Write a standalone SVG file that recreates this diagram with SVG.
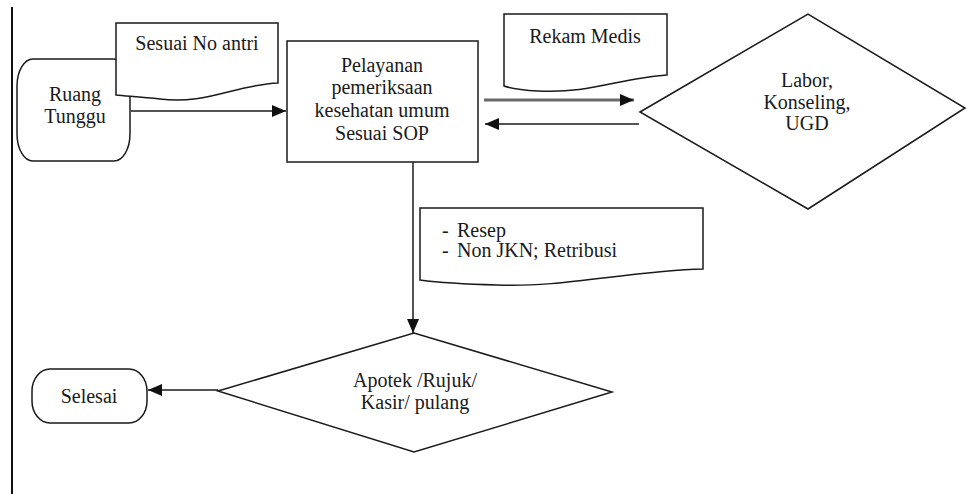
<svg xmlns="http://www.w3.org/2000/svg" width="967" height="494" viewBox="0 0 967 494">
<style>
  .shape { fill: #ffffff; stroke: #1a1a1a; stroke-width: 1.5; }
  .conn { fill: none; stroke: #1a1a1a; stroke-width: 1.5; }
  .conn-grey { fill: none; stroke: #6a6a6a; stroke-width: 3; }
  .lbl { font-family: 'Liberation Serif', 'DejaVu Serif', serif; font-size: 20px; fill: #1a1a1a; }
  .mid { text-anchor: middle; }
</style>
<defs>
  <marker id="arrow" markerUnits="userSpaceOnUse" markerWidth="14" markerHeight="12" refX="14" refY="6" orient="auto">
    <path d="M0,0 L14,6 L0,12 Z" fill="#111111"/>
  </marker>
</defs>
<rect x="0" y="0" width="967" height="494" fill="#ffffff"/>
<line x1="12" y1="7" x2="12" y2="494" stroke="#111111" stroke-width="2"/>

<g id="ruang-tunggu">
  <rect class="shape" x="17" y="59" width="113" height="102" rx="16" ry="27"/>
  <text class="lbl mid" x="75" y="101">Ruang</text>
  <text class="lbl mid" x="75" y="123">Tunggu</text>
</g>

<g id="sesuai-no-antri">
  <path class="shape" d="M116,23 H278 V83 C235,85 205,105 160,99 C140,97 126,96 116,95 Z"/>
  <text class="lbl mid" x="197" y="50">Sesuai No antri</text>
</g>

<g id="pelayanan">
  <rect class="shape" x="287" y="41" width="191" height="121"/>
  <text class="lbl mid" x="382" y="72">Pelayanan</text>
  <text class="lbl mid" x="382" y="94">pemeriksaan</text>
  <text class="lbl mid" x="382" y="117">kesehatan umum</text>
  <text class="lbl mid" x="382" y="140">Sesuai SOP</text>
</g>

<g id="rekam-medis">
  <path class="shape" d="M504,14 H667 V75 C620,78 590,94 538,91 C520,90 510,88 504,86 Z"/>
  <text class="lbl mid" x="585" y="43">Rekam Medis</text>
</g>

<g id="labor">
  <polygon class="shape" points="640,112 808,14 965,108 808,209"/>
  <text class="lbl mid" x="807" y="87">Labor,</text>
  <text class="lbl mid" x="807" y="109">Konseling,</text>
  <text class="lbl mid" x="807" y="130">UGD</text>
</g>

<g id="resep">
  <path class="shape" d="M420,208 H703 V269 C630,271 560,288 497,285 C460,284 435,282 420,280 Z"/>
  <text class="lbl" x="442" y="237">-</text>
  <text class="lbl" x="457" y="237">Resep</text>
  <text class="lbl" x="442" y="257">-</text>
  <text class="lbl" x="457" y="257">Non JKN; Retribusi</text>
</g>

<g id="apotek">
  <polygon class="shape" points="218,391 414,333 612,392 414,452"/>
  <text class="lbl mid" x="415" y="387">Apotek /Rujuk/</text>
  <text class="lbl mid" x="415" y="409">Kasir/ pulang</text>
</g>

<g id="selesai">
  <rect class="shape" x="32" y="369" width="115" height="54" rx="18" ry="22"/>
  <text class="lbl mid" x="89" y="403">Selesai</text>
</g>

<g id="connectors">
  <line class="conn" x1="131" y1="111" x2="286" y2="111" marker-end="url(#arrow)"/>
  <line class="conn-grey" x1="484" y1="100" x2="634" y2="100" marker-end="url(#arrow)"/>
  <line class="conn" x1="639" y1="124" x2="485" y2="124" marker-end="url(#arrow)"/>
  <line class="conn" x1="413" y1="162" x2="413" y2="333" marker-end="url(#arrow)"/>
  <line class="conn" x1="218" y1="390" x2="148" y2="390" marker-end="url(#arrow)"/>
</g>
</svg>
